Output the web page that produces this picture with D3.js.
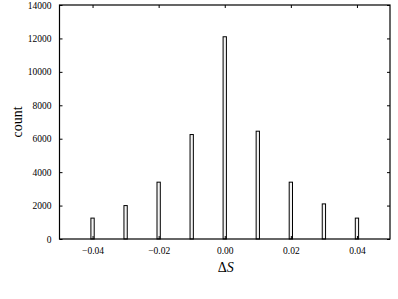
<!DOCTYPE html>
<html><head><meta charset="utf-8">
<script src="https://cdn.jsdelivr.net/npm/d3@7"></script>
<style>body{margin:0;background:#fff}svg{display:block}</style>
</head><body>
<svg id="c" width="398" height="299"></svg>
<script>
const deltaS = [-0.04, -0.03, -0.02, -0.01, 0.00, 0.01, 0.02, 0.03, 0.04];
const counts = [1250, 2000, 3400, 6250, 12100, 6450, 3400, 2100, 1250];
const xTicks = [-0.04, -0.02, 0.00, 0.02, 0.04];
const yTicks = [0, 2000, 4000, 6000, 8000, 10000, 12000, 14000];

const svg = d3.select("#c");
const m = {l: 59.5, r: 390, t: 5, b: 239};
const x = d3.scaleLinear().domain([-0.05, 0.05]).range([m.l, m.r]);
const y = d3.scaleLinear().domain([0, 14000]).range([m.b, m.t]);
const font = "Liberation Serif, Times New Roman, serif";

// bars
const bw = x(0.001) - x(0);
svg.append("g").selectAll("rect").data(deltaS).join("rect")
  .attr("x", d => x(d) - bw/2).attr("width", bw)
  .attr("y", (d,i) => y(counts[i])).attr("height", (d,i) => y(0) - y(counts[i]))
  .attr("fill", "#f4f4f4").attr("stroke", "#000").attr("stroke-width", 1);

// axes with inward ticks
const fmtX = d => d === 0 ? "0.00" : (d < 0 ? "\u2212" + Math.abs(d).toFixed(2) : d.toFixed(2));
const gx = svg.append("g").attr("transform", `translate(0,${m.b})`)
  .call(d3.axisBottom(x).tickValues(xTicks).tickSize(-3).tickPadding(8).tickFormat(fmtX));
const gxt = svg.append("g").attr("transform", `translate(0,${m.t})`)
  .call(d3.axisTop(x).tickValues(xTicks).tickSize(-3).tickFormat(""));
const gy = svg.append("g").attr("transform", `translate(${m.l},0)`)
  .call(d3.axisLeft(y).tickValues(yTicks).tickSize(-3).tickPadding(8).tickFormat(d3.format("d")));
const gyr = svg.append("g").attr("transform", `translate(${m.r},0)`)
  .call(d3.axisRight(y).tickValues(yTicks).tickSize(-3).tickFormat(""));
[gx, gxt, gy, gyr].forEach(g => {
  g.select(".domain").remove();
  g.selectAll("line").attr("stroke", "#000");
  g.selectAll("text").attr("font-family", font).attr("font-size", 9.5).attr("fill", "#000");
});

// frame
svg.append("rect").attr("x", m.l).attr("y", m.t).attr("width", m.r - m.l).attr("height", m.b - m.t)
  .attr("fill", "none").attr("stroke", "#000").attr("stroke-width", 1.2);

// labels
svg.append("text").attr("transform", `translate(22,${(m.t+m.b)/2}) rotate(-90)`)
  .attr("text-anchor", "middle").attr("font-family", font).attr("font-size", 14).text("count");
const xl = svg.append("text").attr("x", (m.l+m.r)/2 + 1).attr("y", 272)
  .attr("text-anchor", "middle").attr("font-family", font).attr("font-size", 14);
xl.append("tspan").text("\u0394");
xl.append("tspan").attr("font-style", "italic").text("S");
</script>
</body></html>
